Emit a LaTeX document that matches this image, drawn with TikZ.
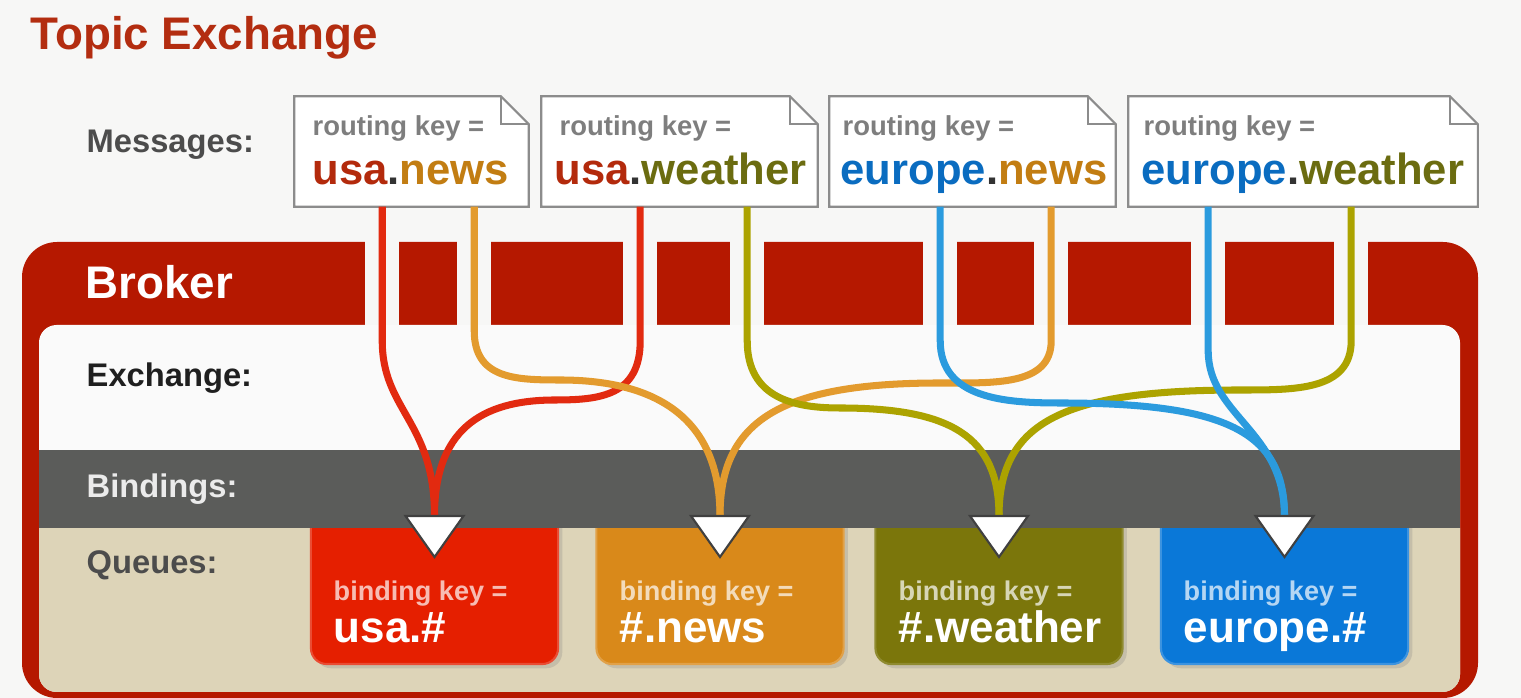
\documentclass[tikz,border=0pt]{standalone}
\usepackage{fontspec}
\setmainfont{Liberation Sans}
\usetikzlibrary{calc,positioning,shadows}

\definecolor{pagebg}{HTML}{F7F7F6}
\definecolor{titlered}{HTML}{B32D10}
\definecolor{brokerred}{HTML}{B51800}
\definecolor{bindgray}{HTML}{5B5C5A}
\definecolor{queuebg}{HTML}{DDD4B8}
\definecolor{boxline}{HTML}{8C8C8C}
\definecolor{keygray}{HTML}{7E7E7E}
\definecolor{usared}{HTML}{B32A0C}
\definecolor{newsorange}{HTML}{C27D12}
\definecolor{weatherolive}{HTML}{6B6C10}
\definecolor{europeblue}{HTML}{0A6CC0}
\definecolor{qred}{HTML}{E51F00}
\definecolor{qorange}{HTML}{D9891A}
\definecolor{qolive}{HTML}{7B760B}
\definecolor{qblue}{HTML}{0A78D8}
\definecolor{wred}{HTML}{E22A10}
\definecolor{worange}{HTML}{E39B2E}
\definecolor{wolive}{HTML}{ACA300}
\definecolor{wblue}{HTML}{2B9BDE}

\tikzset{
  lbl/.style={inner sep=0pt, anchor=west, font=\bfseries\fontsize{9.3pt}{11pt}\selectfont},
  msgbox/.style={inner sep=0pt, minimum height=1.09cm},
  msgline/.style={draw=boxline, line width=0.6pt, line join=miter},
  rkey/.style={inner sep=0pt, anchor=base west, text=keygray, font=\bfseries\fontsize{7.8pt}{9pt}\selectfont},
  rval/.style={inner sep=0pt, anchor=base west, text=black!80, font=\bfseries\fontsize{12.4pt}{14pt}\selectfont},
  queue/.style={inner sep=0pt, minimum width=2.47cm, minimum height=1.64cm, rounded corners=4.5pt,
    line width=0.6pt, drop shadow={shadow xshift=1.2pt, shadow yshift=-1.2pt, opacity=0.25}},
  bkey/.style={inner sep=0pt, anchor=base west, text=white, text opacity=0.7, font=\bfseries\fontsize{7.7pt}{9pt}\selectfont},
  bval/.style={inner sep=0pt, anchor=base west, text=white, font=\bfseries\fontsize{12.5pt}{14pt}\selectfont},
  wire/.style={line width=2pt},
  tri/.style={fill=white, draw=black!75, line width=0.6pt, line join=miter}
}

\begin{document}
\begin{tikzpicture}[x=0.01cm, y=-0.01cm]
    \useasboundingbox (0,0) rectangle (1521,698);
    \fill[pagebg] (0,0) rectangle (1521,698);

    \node[inner sep=0pt, anchor=base west, text=titlered, font=\bfseries\fontsize{13pt}{15pt}\selectfont] (title) at (30,50) {Topic Exchange};

    % broker frame
    \fill[brokerred, rounded corners=10pt] (22,242) rectangle (1478,698);
    \node[msgbox, minimum width=2.33cm] (m1) at (411.5,151.5) {};
    \node[msgbox, minimum width=2.75cm] (m2) at (679.5,151.5) {};
    \node[msgbox, minimum width=2.85cm] (m3) at (972.5,151.5) {};
    \node[msgbox, minimum width=3.48cm] (m4) at (1303,151.5) {};
    \coordinate (m1a) at ($(m1.south west)+(88,0)$);
    \coordinate (m1b) at ($(m1.south west)+(180,0)$);
    \coordinate (m2a) at ($(m2.south west)+(99,0)$);
    \coordinate (m2b) at ($(m2.south west)+(206,0)$);
    \coordinate (m3a) at ($(m3.south west)+(111,0)$);
    \coordinate (m3b) at ($(m3.south west)+(222,0)$);
    \coordinate (m4a) at ($(m4.south west)+(80,0)$);
    \coordinate (m4b) at ($(m4.south west)+(223,0)$);
    \foreach \w in {m1a,m1b,m2a,m2b,m3a,m3b,m4a,m4b}
        \fill[pagebg] ($(\w |- 0,240)+(-17,0)$) rectangle ($(\w |- 0,326)+(17,0)$);
    \fill[white!98!black, rounded corners=5pt] (39,325) rectangle (1460,692);
    \fill[queuebg, rounded corners=5pt] (39,528) -- (39,692) -- (1460,692) -- (1460,528);

    \node[queue, fill=qred, draw=qred!80!white] (q1) at (434.5,582) {};
    \node[queue, fill=qorange, draw=qorange!80!white] (q2) at (720,582) {};
    \node[queue, fill=qolive, draw=qolive!85!white] (q3) at (999,582) {};
    \node[queue, fill=qblue, draw=qblue!80!white] (q4) at (1284.5,582) {};
    \fill[bindgray] (39,450) rectangle (1460,528);

    \node[lbl, white, font=\bfseries\fontsize{13pt}{15pt}\selectfont] (broker) at (85,282) {Broker};
    \node[lbl, text=black!70] (msgs) at (86,145) {Messages:};
    \node[lbl, text=black!88] (exch) at (86,378) {Exchange:};
    \node[lbl, text=black!8] (binds) at (86,489) {Bindings:};
    \node[lbl, text=black!70] (queues) at (86,565) {Queues:};

    % messages
    \foreach \m in {m1,m2,m3,m4}{
        \draw[msgline, fill=white] (\m.south west) -- (\m.north west) -- ($(\m.north east)+(-28,0)$)
            -- ($(\m.north east)+(0,28)$) -- (\m.south east) -- cycle;
        \draw[msgline] ($(\m.north east)+(-28,0)$) |- ($(\m.north east)+(0,28)$);
    }
    \node[rkey] (m1k) at (312,136) {routing key =};
    \node[rkey] (m2k) at (559,136) {routing key =};
    \node[rkey] (m3k) at (842,136) {routing key =};
    \node[rkey] (m4k) at (1143,136) {routing key =};
    \node[rval] (m1v) at (312,185) {\textcolor{usared}{usa}.\textcolor{newsorange}{news}};
    \node[rval] (m2v) at (554,185) {\textcolor{usared}{usa}.\textcolor{weatherolive}{weather}};
    \node[rval] (m3v) at (840,185) {\textcolor{europeblue}{europe}.\textcolor{newsorange}{news}};
    \node[rval] (m4v) at (1141,185) {\textcolor{europeblue}{europe}.\textcolor{weatherolive}{weather}};

    % bindings
    \coordinate (q1in) at (q1.north |- 0,516);
    \coordinate (q2in) at (q2.north |- 0,516);
    \coordinate (q3in) at (q3.north |- 0,516);
    \coordinate (q4in) at (q4.north |- 0,516);
    \draw[wire, wred] (m1a) -- ++(0,134) .. controls +(0,70) and +(0,-95) .. (q1in);
    \draw[wire, wred] (m2a) -- ++(0,134) .. controls +(0,55) and +(45,0) .. (555,400)
        .. controls +(-75,0) and +(0,-85) .. (q1in);
    \draw[wire, worange] (m1b) -- ++(0,124) .. controls +(0,48) and +(-45,0) .. (560,380)
        .. controls +(100,0) and +(0,-95) .. (q2in);
    \draw[wire, worange] (m3b) -- ++(0,134) .. controls +(0,45) and +(55,0) .. (940,383)
        .. controls +(-160,0) and +(0,-95) .. (q2in);
    \draw[wire, wolive] (m2b) -- ++(0,134) .. controls +(0,58) and +(-45,0) .. (840,408)
        .. controls +(110,0) and +(0,-80) .. (q3in);
    \draw[wire, wolive] (m4b) -- ++(0,134) .. controls +(0,50) and +(55,0) .. (1240,390)
        .. controls +(-175,0) and +(0,-95) .. (q3in);
    \draw[wire, wblue] (m3a) -- ++(0,134) .. controls +(0,58) and +(-55,0) .. (1060,403)
        .. controls +(165,0) and +(0,-85) .. (q4in);
    \draw[wire, wblue] (m4a) -- ++(0,144) .. controls +(0,65) and +(0,-85) .. (q4in);
    \foreach \q in {q1in,q2in,q3in,q4in}
        \draw[tri] ($(\q)+(-29,0)$) -- ($(\q)+(29,0)$) -- ($(\q)+(0,41)$) -- cycle;

    % queues
    \node[bkey] (q1k) at (333,601) {binding key =};
    \node[bkey] (q2k) at (619,601) {binding key =};
    \node[bkey] (q3k) at (898,601) {binding key =};
    \node[bkey] (q4k) at (1183,601) {binding key =};
    \node[bval] (q1v) at (333,643) {usa.\#};
    \node[bval] (q2v) at (619,643) {\#.news};
    \node[bval] (q3v) at (898,643) {\#.weather};
    \node[bval] (q4v) at (1183,643) {europe.\#};
\end{tikzpicture}
\end{document}
